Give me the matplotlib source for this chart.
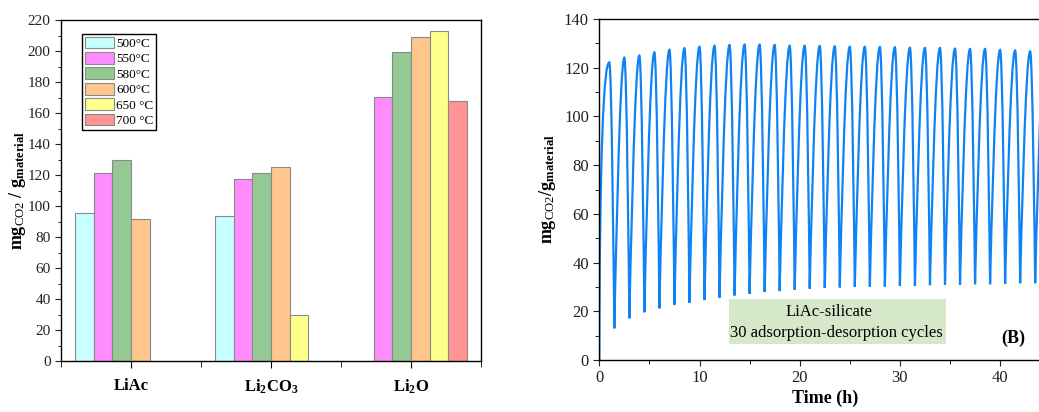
import matplotlib
matplotlib.use('Agg')
import matplotlib.pyplot as plt
import numpy as np
from matplotlib.path import Path
from matplotlib.patches import PathPatch, Rectangle
from matplotlib.ticker import MultipleLocator, FixedLocator

plt.rcParams['font.family'] = ['Liberation Serif', 'DejaVu Serif']
plt.rcParams['mathtext.fontset'] = 'custom'
plt.rcParams['mathtext.rm'] = 'Liberation Serif'
plt.rcParams['mathtext.it'] = 'Liberation Serif:italic'
plt.rcParams['mathtext.bf'] = 'Liberation Serif:bold'

# (A) capture per precursor and calcination temperature
precursors = ['LiAc', r'Li$_{\mathbf{2}}$CO$_{\mathbf{3}}$', r'Li$_{\mathbf{2}}$O']
temps = ['500°C', '550°C', '580°C', '600°C', '650 °C', '700 °C']
capacity = {
    '500°C': [95.7, 93.8, np.nan],
    '550°C': [121.3, 117.4, 170.1],
    '580°C': [129.5, 121.5, 199.1],
    '600°C': [91.6, 124.9, 209.2],
    '650 °C': [np.nan, 29.5, 213.1],
    '700 °C': [np.nan, np.nan, 167.7],
}
bar_colors = ['#C8FFFF', '#FF8CFF', '#94C994', '#FFC68E', '#FFFF8C', '#FF9494']

# (B) cycling: peak / trough
start_time, start_val = 0.0, 0.0
peak_time = [1.0, 2.5, 4.0, 5.5, 7.0, 8.5, 10.0, 11.5, 13.0, 14.5, 16.0, 17.5, 19.0, 20.5, 22.0,
             23.5, 25.0, 26.5, 28.0, 29.5, 31.0, 32.5, 34.0, 35.5, 37.0, 38.5, 40.0, 41.5, 43.0, 44.5]
peak_val = [122.2, 124.1, 125.0, 126.3, 127.4, 128.0, 128.6, 129.0, 129.3, 129.5, 129.5, 129.3, 129.0,
            129.0, 128.9, 128.8, 128.6, 128.6, 128.5, 128.4, 128.2, 128.1, 128.1, 127.8, 127.7, 127.7,
            127.3, 127.1, 126.7, 126.5]
trough_time = [1.5, 3.0, 4.5, 6.0, 7.5, 9.0, 10.5, 12.0, 13.5, 15.0, 16.5, 18.0, 19.5, 21.0, 22.5,
               24.0, 25.5, 27.0, 28.5, 30.0, 31.5, 33.0, 34.5, 36.0, 37.5, 39.0, 40.5, 42.0, 43.5]
trough_val = [13.0, 17.1, 19.6, 21.2, 22.7, 23.5, 24.6, 25.6, 26.5, 27.2, 27.9, 28.3, 28.9, 29.3, 29.6,
              29.8, 30.0, 30.1, 30.2, 30.4, 30.5, 30.7, 30.8, 30.9, 31.1, 31.1, 31.3, 31.5, 31.5]


def bezier_seg(p0, p1, c1, c2):
    """control points (fractions of the segment) -> absolute coords"""
    dx, dy = p1[0] - p0[0], p1[1] - p0[1]
    return [(p0[0] + c1[0] * dx, p0[1] + c1[1] * dy),
            (p0[0] + c2[0] * dx, p0[1] + c2[1] * dy),
            p1]


def cycle_path():
    verts = [(start_time, start_val)]
    codes = [Path.MOVETO]
    prev = (start_time, start_val)
    for i in range(len(peak_time)):
        pk = (peak_time[i], peak_val[i])
        if i == 0:
            verts += bezier_seg(prev, pk, (0.03, 0.7), (0.45, 1.0))
        else:
            verts += bezier_seg(prev, pk, (0.12, 0.2), (0.55, 1.0))
        codes += [Path.CURVE4] * 3
        if i < len(trough_time):
            tr = (trough_time[i], trough_val[i])
            verts += bezier_seg(pk, tr, (0.45, 0.0), (0.88, 0.8))
            codes += [Path.CURVE4] * 3
            prev = tr
    return Path(verts, codes)


fig = plt.figure(figsize=(10.39, 4.12), dpi=100)

# ---------- panel A ----------
ax1 = fig.add_axes([61 / 1039, 51 / 412, 420 / 1039, 341 / 412])
x = np.arange(len(precursors))
w = 0.8 / len(temps)
for i, t in enumerate(temps):
    ax1.bar(x + (i - 2.5) * w, capacity[t], width=w, color=bar_colors[i],
            edgecolor='#8a8a8a', linewidth=0.8, label=t)

ax1.set_xlim(-0.5, 2.5)
ax1.set_ylim(0, 220)
ax1.yaxis.set_major_locator(MultipleLocator(20))
ax1.yaxis.set_minor_locator(MultipleLocator(10))
ax1.set_xticks(x)
ax1.set_xticklabels(precursors, fontsize=12, fontweight='bold')
ax1.xaxis.set_minor_locator(FixedLocator([-0.5, 0.5, 1.5, 2.5]))
ax1.tick_params(axis='y', which='major', direction='out', length=4, labelsize=11, colors='#222222')
ax1.tick_params(axis='y', which='minor', direction='out', length=2.5)
ax1.tick_params(axis='x', which='major', direction='out', length=5, pad=7)
ax1.tick_params(axis='x', which='minor', direction='out', length=4)
ax1.set_ylabel(r'mg$_{\mathrm{CO2}}$ / g$_{\mathbf{material}}$', fontsize=13, fontweight='bold', labelpad=0)
for s in ax1.spines.values():
    s.set_linewidth(1.0)

leg = ax1.legend(loc='upper left', bbox_to_anchor=(0.05, 0.959), borderaxespad=0, fontsize=9.5,
                 handlelength=2.2, handleheight=1.0, labelspacing=0.15, handletextpad=0.2,
                 borderpad=0.2, frameon=True, fancybox=False, framealpha=1)
leg.get_frame().set_edgecolor('black')
leg.get_frame().set_linewidth(1.0)

# ---------- panel B ----------
ax2 = fig.add_axes([599.3 / 1039, 52 / 412, 45 * 10.02 / 1039, 341 / 412])
ax2.add_patch(PathPatch(cycle_path(), fill=False, edgecolor='#0F82F5', linewidth=1.6))
ax2.set_xlim(0, 45)
ax2.set_ylim(0, 140)
ax2.xaxis.set_major_locator(MultipleLocator(10))
ax2.xaxis.set_minor_locator(MultipleLocator(5))
ax2.yaxis.set_major_locator(MultipleLocator(20))
ax2.yaxis.set_minor_locator(MultipleLocator(10))
ax2.tick_params(which='major', direction='out', length=4, labelsize=12, colors='#222222')
ax2.tick_params(which='minor', direction='out', length=3)
ax2.set_xlabel('Time (h)', fontsize=13, fontweight='bold')
ax2.xaxis.set_label_coords(0.5, -0.088)
ax2.set_ylabel(r'mg$_{\mathrm{CO2}}$/g$_{\mathbf{material}}$', fontsize=13, fontweight='bold', labelpad=4)
for s in ax2.spines.values():
    s.set_linewidth(1.0)

ax2.add_patch(Rectangle((12.9, 6.6), 21.7, 18.4, facecolor='#D5E8CA', edgecolor='none', zorder=3))
ax2.text(22.9, 19.6, 'LiAc-silicate', ha='center', va='center', fontsize=12, zorder=4)
ax2.text(23.7, 11.0, '30 adsorption-desorption cycles', ha='center', va='center', fontsize=12, zorder=4)
ax2.text(41.3, 9.0, '(B)', ha='center', va='center', fontsize=13, fontweight='bold')

fig.savefig('out.png', dpi=100)
